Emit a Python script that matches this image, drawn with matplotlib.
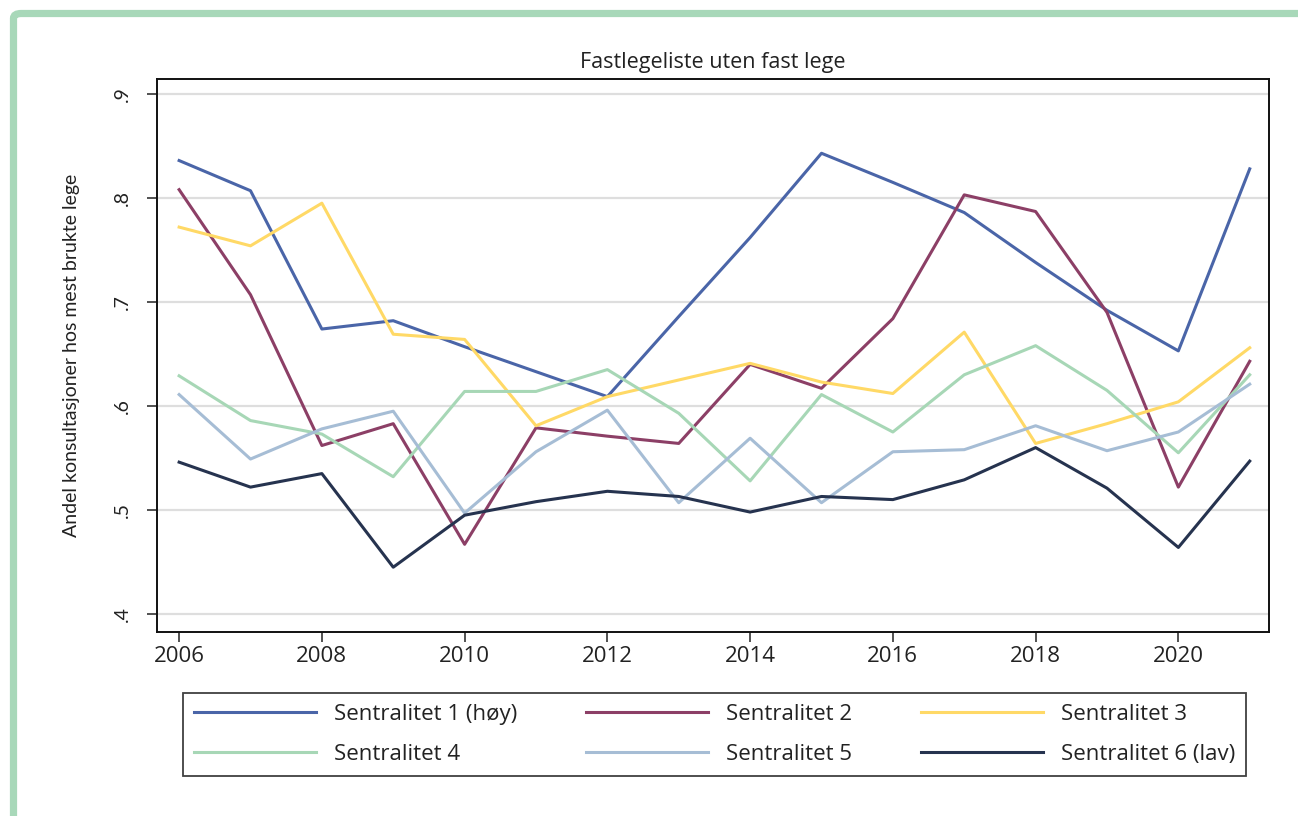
import matplotlib
matplotlib.use("Agg")
import matplotlib.pyplot as plt
from matplotlib.patches import FancyBboxPatch

years = list(range(2006, 2022))
labels = ["Sentralitet 1 (høy)", "Sentralitet 2", "Sentralitet 3",
          "Sentralitet 4", "Sentralitet 5", "Sentralitet 6 (lav)"]
s1 = [0.836, 0.807, 0.674, 0.682, 0.657, 0.633, 0.609, 0.686, 0.762, 0.843, 0.815, 0.786, 0.738, 0.692, 0.653, 0.828]
s2 = [0.808, 0.707, 0.562, 0.583, 0.467, 0.579, 0.571, 0.564, 0.640, 0.617, 0.684, 0.803, 0.787, 0.690, 0.522, 0.643]
s3 = [0.772, 0.754, 0.795, 0.669, 0.664, 0.581, 0.609, 0.625, 0.641, 0.623, 0.612, 0.671, 0.564, 0.583, 0.604, 0.656]
s4 = [0.629, 0.586, 0.573, 0.532, 0.614, 0.614, 0.635, 0.593, 0.528, 0.611, 0.575, 0.630, 0.658, 0.615, 0.555, 0.630]
s5 = [0.611, 0.549, 0.578, 0.595, 0.497, 0.556, 0.596, 0.507, 0.569, 0.507, 0.556, 0.558, 0.581, 0.557, 0.575, 0.621]
s6 = [0.546, 0.522, 0.535, 0.445, 0.495, 0.508, 0.518, 0.513, 0.498, 0.513, 0.510, 0.529, 0.560, 0.521, 0.464, 0.547]
series = [s1, s2, s3, s4, s5, s6]
colors = ["#4A65A8", "#8C3F66", "#FFD966", "#A7D7B6", "#A6BDD5", "#26334F"]
xticks = list(range(2006, 2021, 2))
yticks = [0.4, 0.5, 0.6, 0.7, 0.8, 0.9]
yticklabels = [".4", ".5", ".6", ".7", ".8", ".9"]

HFONT = ['Open Sans', 'DejaVu Sans']
VFONT = ['Lato', 'DejaVu Sans']
plt.rcParams['font.family'] = HFONT

fig = plt.figure(figsize=(12.98, 8.16), dpi=100)
fig.patches.append(FancyBboxPatch((13.5/1298, -0.5), 2.0, 1.5 - 13.5/816,
                                  boxstyle="round,pad=0,rounding_size=0.006",
                                  transform=fig.transFigure, fill=False,
                                  edgecolor="#A8D8B9", lw=5.2, zorder=0))

ax = fig.add_axes([157/1298, 1 - 632/816, 1112/1298, 553/816])
for y, c, lab in zip(series, colors, labels):
    ax.plot(years, y, color=c, lw=2.2, label=lab)

ax.set_xlim(2005.69, 2021.27)
ax.set_ylim(0.3827, 0.9144)
ax.set_xticks(xticks)
ax.set_xticklabels([str(t) for t in xticks], fontsize=16, color='#222222')
ax.set_yticks(yticks)
ax.set_yticklabels(yticklabels, fontsize=14, rotation=90, va='center',
                   family=VFONT, color='#222222')
ax.tick_params(direction='out', length=7, width=1.1, color='#222222')
ax.tick_params(axis='x', pad=3)
ax.tick_params(axis='y', pad=12)
ax.grid(axis='y', color='#DEDEDE', lw=1.6)
ax.set_axisbelow(True)
for sp in ax.spines.values():
    sp.set_color('#111111')
    sp.set_linewidth(1.4)
ax.set_title("Fastlegeliste uten fast lege", fontsize=15.5, pad=8, color='#222222')
ax.set_ylabel("Andel konsultasjoner hos mest brukte lege", fontsize=14,
              family=VFONT, color='#222222')
ax.yaxis.set_label_coords(-0.0693, 0.5)

handles, labs = ax.get_legend_handles_labels()
order = [0, 3, 1, 4, 2, 5]
leg = fig.legend([handles[i] for i in order], [labs[i] for i in order],
                 ncol=3, loc='center',
                 bbox_to_anchor=(183/1298, 1 - 780/816, 1063/1298, 91/816),
                 mode='expand', fontsize=16, frameon=True, fancybox=False,
                 edgecolor='#111111', handlelength=5.5, handletextpad=0.8,
                 labelspacing=0.86, borderaxespad=0, borderpad=0.5)
leg.get_frame().set_linewidth(1.3)
for t in leg.get_texts():
    t.set_color('#222222')

fig.savefig("out.png", dpi=100, facecolor='white')
